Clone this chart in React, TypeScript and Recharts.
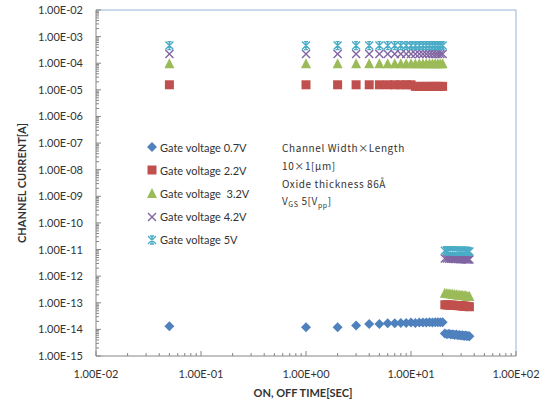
import React from 'react';
import { ScatterChart, Scatter, XAxis, YAxis, ReferenceLine } from 'recharts';

// ---- data ----
const onTimes = [0.05, 1, 2, 3, 4, 5, 6, 7, 8, 9, 10, 11, 12, 13, 14, 15, 16, 17, 18, 19, 20];
const offTimes = [21, 22, 23, 24, 25, 26, 27, 28, 29, 30, 31, 32, 33, 34, 35, 36];

const g07On = [1.3e-14, 1.2e-14, 1.2e-14, 1.4e-14, 1.6e-14, 1.6e-14, 1.7e-14, 1.7e-14, 1.75e-14, 1.75e-14, 1.8e-14, 1.75e-14, 1.8e-14, 1.8e-14, 1.8e-14, 1.85e-14, 1.8e-14, 1.85e-14, 1.85e-14, 1.85e-14, 1.85e-14];
const g07Off = [7.0e-15, 6.6e-15, 6.8e-15, 6.4e-15, 6.6e-15, 6.2e-15, 6.4e-15, 6.0e-15, 6.2e-15, 5.9e-15, 6.0e-15, 5.7e-15, 5.9e-15, 5.6e-15, 5.7e-15, 5.5e-15];

const g22On = [1.55e-5, 1.55e-5, 1.55e-5, 1.55e-5, 1.55e-5, 1.55e-5, 1.55e-5, 1.55e-5, 1.55e-5, 1.55e-5, 1.55e-5, 1.35e-5, 1.35e-5, 1.35e-5, 1.35e-5, 1.35e-5, 1.35e-5, 1.35e-5, 1.35e-5, 1.35e-5, 1.35e-5];
const g22Off = [8.4e-14, 8.3e-14, 8.2e-14, 8.2e-14, 8.1e-14, 8.0e-14, 7.9e-14, 7.8e-14, 7.8e-14, 7.7e-14, 7.6e-14, 7.5e-14, 7.4e-14, 7.3e-14, 7.2e-14, 7.1e-14];

const g32On = [1.0e-4, 1.0e-4, 1.0e-4, 1.0e-4, 1.0e-4, 1.0e-4, 1.0e-4, 1.0e-4, 1.0e-4, 1.0e-4, 1.0e-4, 1.0e-4, 1.0e-4, 1.0e-4, 1.0e-4, 1.0e-4, 1.0e-4, 1.0e-4, 1.0e-4, 1.0e-4, 1.0e-4];
const g32Off = [2.4e-13, 2.35e-13, 2.3e-13, 2.25e-13, 2.2e-13, 2.15e-13, 2.1e-13, 2.05e-13, 2.0e-13, 2.0e-13, 1.95e-13, 1.9e-13, 1.9e-13, 1.85e-13, 1.8e-13, 1.8e-13];

const g42On = [2.2e-4, 2.2e-4, 2.2e-4, 2.2e-4, 2.2e-4, 2.2e-4, 2.2e-4, 2.2e-4, 2.2e-4, 2.2e-4, 2.2e-4, 2.2e-4, 2.2e-4, 2.2e-4, 2.2e-4, 2.2e-4, 2.2e-4, 2.2e-4, 2.2e-4, 2.2e-4, 2.2e-4];
const g42Off = [4.6e-12, 4.6e-12, 4.5e-12, 4.5e-12, 4.5e-12, 4.4e-12, 4.4e-12, 4.4e-12, 4.3e-12, 4.3e-12, 4.3e-12, 4.3e-12, 4.2e-12, 4.2e-12, 4.2e-12, 4.2e-12];

const g5On = [4.6e-4, 4.6e-4, 4.6e-4, 4.6e-4, 4.6e-4, 4.6e-4, 4.6e-4, 4.6e-4, 4.6e-4, 4.6e-4, 4.6e-4, 4.6e-4, 4.6e-4, 4.6e-4, 4.6e-4, 4.6e-4, 4.6e-4, 4.6e-4, 4.6e-4, 4.6e-4, 4.6e-4];
const g5Off = [9.0e-12, 9.0e-12, 8.9e-12, 8.9e-12, 8.8e-12, 8.8e-12, 8.8e-12, 8.7e-12, 8.7e-12, 8.7e-12, 8.6e-12, 8.6e-12, 8.6e-12, 8.5e-12, 8.5e-12, 8.5e-12];

const seriesNames = ['Gate voltage 0.7V', 'Gate voltage 2.2V', 'Gate voltage  3.2V', 'Gate voltage 4.2V', 'Gate voltage 5V'];
const seriesColors = ['#4F81BD', '#C0504D', '#9BBB59', '#8064A2', '#4BACC6'];
const seriesShapes = ['diamond', 'square', 'triangle', 'x', 'star'];

const xMajorTicks = [0.01, 0.1, 1, 10, 100];
const yMajorTicks = [1e-15, 1e-14, 1e-13, 1e-12, 1e-11, 1e-10, 1e-9, 1e-8, 1e-7, 1e-6, 1e-5, 1e-4, 1e-3, 1e-2];

const annotationLines = ['Channel Width×Length', '10×1[μm]', 'Oxide thickness 86Å'];

// ---- helpers ----
const minorMult = [2, 3, 4, 5, 6, 7, 8, 9];
const withMinor = (majors: number[]) => {
  const out: number[] = [];
  majors.forEach((m, i) => {
    out.push(m);
    if (i < majors.length - 1) minorMult.forEach((k) => out.push(m * k));
  });
  return out;
};
const xTicks = withMinor(xMajorTicks);
const yTicks = withMinor(yMajorTicks);

const isMajor = (v: number) => {
  const l = Math.log10(v);
  return Math.abs(l - Math.round(l)) < 1e-6;
};
const sci = (v: number) => {
  const e = Math.round(Math.log10(v));
  return `1.00E${e < 0 ? '-' : '+'}${String(Math.abs(e)).padStart(2, '0')}`;
};

const build = (on: number[], off: number[]) =>
  onTimes.map((t, i) => ({ t, i: on[i] })).concat(offTimes.map((t, i) => ({ t, i: off[i] })));

const seriesData = [
  build(g07On, g07Off),
  build(g22On, g22Off),
  build(g32On, g32Off),
  build(g42On, g42Off),
  build(g5On, g5Off),
];

const FONT = 'Lato, "Open Sans", sans-serif';
const AXIS = '#868686';
const TEXT = '#333';

const Marker = ({ kind, cx, cy, color }: { kind: string; cx: number; cy: number; color: string }) => {
  if (kind === 'diamond') {
    const r = 5;
    return <path d={`M${cx},${cy - r}L${cx + r},${cy}L${cx},${cy + r}L${cx - r},${cy}Z`} fill={color} />;
  }
  if (kind === 'square') {
    const r = 4.5;
    return <rect x={cx - r} y={cy - r} width={2 * r} height={2 * r} fill={color} />;
  }
  if (kind === 'triangle') {
    const r = 5;
    return <path d={`M${cx},${cy - r}L${cx + r},${cy + r}L${cx - r},${cy + r}Z`} fill={color} />;
  }
  if (kind === 'x') {
    const r = 4;
    return (
      <path d={`M${cx - r},${cy - r}L${cx + r},${cy + r}M${cx + r},${cy - r}L${cx - r},${cy + r}`} stroke={color} strokeWidth={1.4} fill="none" />
    );
  }
  const r = 4;
  return (
    <path
      d={`M${cx - r},${cy - r}L${cx + r},${cy + r}M${cx + r},${cy - r}L${cx - r},${cy + r}M${cx},${cy - r}L${cx},${cy + r}M${cx - 2},${cy - r}L${cx + 2},${cy - r}M${cx - 2},${cy + r}L${cx + 2},${cy + r}`}
      stroke={color}
      strokeWidth={1.4}
      fill="none"
    />
  );
};

const XTick = (props: any) => {
  const { x, y, payload } = props;
  const v = payload.value;
  const major = isMajor(v);
  return (
    <g>
      <line x1={x} x2={x} y1={y} y2={y - (major ? 5 : 3)} stroke={AXIS} />
      {major && (
        <text x={x} y={y + 22} textAnchor="middle" fontFamily={FONT} fontSize={11} fill={TEXT}>
          {sci(v)}
        </text>
      )}
    </g>
  );
};

const YTick = (props: any) => {
  const { x, y, payload } = props;
  const v = payload.value;
  const major = isMajor(v);
  return (
    <g>
      <line x1={x} x2={x + (major ? 5 : 3)} y1={y} y2={y} stroke={AXIS} />
      {major && (
        <text x={x - 13} y={y + 4} textAnchor="end" fontFamily={FONT} fontSize={11} fill={TEXT}>
          {sci(v)}
        </text>
      )}
    </g>
  );
};

export default function App() {
  return (
    <div style={{ position: 'relative', width: 550, height: 403, background: '#fff' }}>
      <style>{`body{margin:0}`}</style>
      <ScatterChart width={550} height={403} margin={{ top: 10, right: 34, bottom: 0, left: 0 }}>
        <XAxis
          type="number"
          dataKey="t"
          scale="log"
          domain={[0.01, 100]}
          ticks={xTicks}
          interval={0}
          tickLine={false}
          tickSize={0}
          tickMargin={0}
          tick={<XTick />}
          axisLine={{ stroke: AXIS }}
          height={47}
          allowDataOverflow
        />
        <YAxis
          type="number"
          dataKey="i"
          scale="log"
          domain={[1e-15, 1e-2]}
          ticks={yTicks}
          interval={0}
          tickLine={false}
          tickSize={0}
          tickMargin={0}
          tick={<YTick />}
          axisLine={{ stroke: AXIS }}
          width={96}
          allowDataOverflow
        />
        <ReferenceLine y={1e-2} stroke="#95B3D7" />
        <ReferenceLine x={100} stroke="#95B3D7" />
        {seriesData.map((d, k) => (
          <Scatter
            key={seriesNames[k]}
            name={seriesNames[k]}
            data={d}
            isAnimationActive={false}
            shape={(p: any) => <Marker kind={seriesShapes[k]} cx={p.cx} cy={p.cy} color={seriesColors[k]} />}
          />
        ))}
      </ScatterChart>

      {/* axis titles */}
      <div
        style={{
          position: 'absolute', left: 20.5, top: 183, transform: 'translate(-50%,-50%) rotate(-90deg)',
          whiteSpace: 'nowrap', fontFamily: FONT, fontWeight: 700, fontSize: 11, color: TEXT,
        }}
      >
        CHANNEL CURRENT[A]
      </div>
      <div
        style={{
          position: 'absolute', left: 303, top: 392, transform: 'translate(-50%,-50%)',
          whiteSpace: 'nowrap', fontFamily: FONT, fontWeight: 700, fontSize: 11, color: TEXT,
        }}
      >
        ON, OFF TIME[SEC]
      </div>

      {/* legend */}
      <div style={{ position: 'absolute', left: 144, top: 135.5, fontFamily: FONT, fontSize: 11, color: TEXT }}>
        {seriesNames.map((n, k) => (
          <div key={n} style={{ display: 'flex', alignItems: 'center', height: 23.2, whiteSpace: 'pre' }}>
            <svg width={16} height={12} style={{ display: 'block' }}>
              <Marker kind={seriesShapes[k]} cx={8} cy={6} color={seriesColors[k]} />
            </svg>
            <span>{n}</span>
          </div>
        ))}
      </div>

      {/* annotation */}
      <div
        style={{
          position: 'absolute', left: 282, top: 139, fontFamily: '"Noto Sans CJK KR", "Noto Sans", sans-serif',
          fontSize: 10, letterSpacing: 0.6, color: TEXT, lineHeight: '17.8px', whiteSpace: 'nowrap',
        }}
      >
        {annotationLines.map((l) => (
          <div key={l}>{l}</div>
        ))}
        <div>
          V<sub style={{ fontSize: 7, verticalAlign: 'baseline', position: 'relative', top: 2 }}>GS</sub> 5[V
          <sub style={{ fontSize: 7, verticalAlign: 'baseline', position: 'relative', top: 3 }}>pp</sub>]
        </div>
      </div>
    </div>
  );
}
